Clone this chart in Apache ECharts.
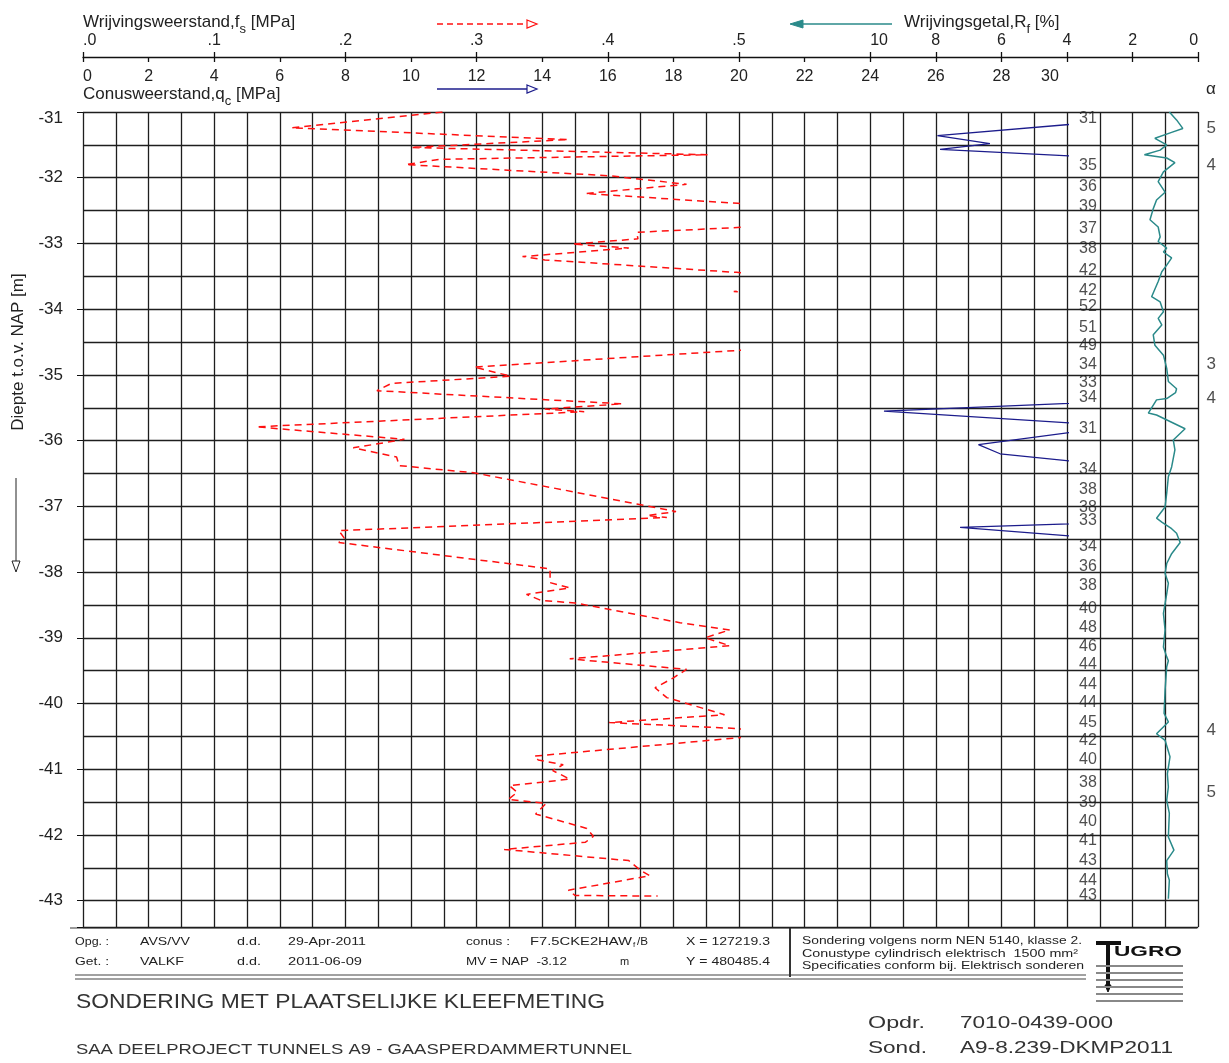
<!DOCTYPE html>
<html><head><meta charset="utf-8">
<script src="https://cdn.jsdelivr.net/npm/echarts@6/dist/echarts.min.js"></script>
<style>html,body{margin:0;padding:0;background:#fff}#c{width:1229px;height:1063px}</style>
</head><body><div id="c"></div>
<script>
// ---------------- DATA ----------------
// Friction resistance fs [MPa] versus depth [m NAP] (values above 0.5 run off the scale)
const fsDepth = [-31.00,-31.24,-31.42,-31.54,-31.65,-31.72,-31.80,-31.97,-32.10,-32.24,-32.39,-32.55,-32.70,-32.83,-32.93,-33.01,-33.07,-33.20,-33.25,-33.44,-33.55,-33.70,-33.73,-33.76,-34.00,-34.30,-34.55,-34.62,-34.88,-35.02,-35.13,-35.24,-35.44,-35.52,-35.56,-35.79,-35.98,-36.11,-36.25,-36.38,-36.49,-36.94,-37.08,-37.14,-37.17,-37.37,-37.48,-37.55,-37.95,-38.16,-38.24,-38.34,-38.43,-38.47,-38.77,-38.88,-39.00,-39.12,-39.32,-39.48,-39.61,-39.76,-39.91,-40.17,-40.29,-40.38,-40.45,-40.52,-40.80,-40.86,-40.93,-41.02,-41.15,-41.25,-41.35,-41.46,-41.52,-41.68,-41.90,-42.02,-42.11,-42.22,-42.39,-42.54,-42.62,-42.84,-42.92,-42.93];
const fsValue = [0.274,0.159,0.370,0.250,0.476,0.272,0.246,0.401,0.460,0.383,0.499,0.57,0.56,0.422,0.423,0.373,0.416,0.335,0.352,0.498,0.57,0.52,0.496,0.52,0.58,0.57,0.55,0.505,0.298,0.326,0.235,0.224,0.411,0.352,0.382,0.132,0.245,0.206,0.239,0.241,0.298,0.416,0.452,0.430,0.445,0.195,0.199,0.195,0.356,0.356,0.371,0.338,0.349,0.375,0.455,0.493,0.474,0.493,0.371,0.460,0.450,0.436,0.445,0.489,0.401,0.498,0.53,0.500,0.344,0.347,0.366,0.358,0.371,0.325,0.331,0.324,0.353,0.345,0.384,0.389,0.383,0.321,0.416,0.425,0.432,0.370,0.375,0.438];

// Cone resistance qc [MPa]: readings inside the 0-30 scale
const qcDipDepth = [-31.18,-31.36,-31.48,-31.57,-31.67,-35.55,-35.73,-35.87,-36.06,-36.20,-36.31,-37.32,-37.45];
const qcDipValue = [30.3,26.05,27.65,26.13,30.1,24.42,30.1,30.2,27.3,27.96,30.1,26.74,30.1];
// Cone resistance qc [MPa] above 30 (printed as numbers)
const qcOverDepth = [-31.10,-31.81,-32.14,-32.44,-32.77,-33.08,-33.41,-33.71,-33.96,-34.28,-34.56,-34.84,-35.11,-35.35,-35.81,-36.44,-36.74,-37.02,-37.22,-37.61,-37.91,-38.20,-38.55,-38.85,-39.14,-39.40,-39.71,-39.99,-40.29,-40.56,-40.85,-41.21,-41.51,-41.80,-42.08,-42.39,-42.69,-42.92];
const qcOverValue = [31,35,36,39,37,38,42,42,52,51,49,34,33,34,31,34,38,38,33,34,36,38,40,48,46,44,44,44,45,42,40,38,39,40,41,43,44,43];

// Friction ratio Rf [%]
const rfDepth = [-31.00,-31.12,-31.25,-31.31,-31.40,-31.50,-31.58,-31.65,-31.70,-31.77,-31.91,-32.06,-32.22,-32.34,-32.47,-32.64,-32.75,-32.90,-32.97,-33.07,-33.13,-33.22,-33.33,-33.43,-33.58,-33.81,-33.89,-34.04,-34.14,-34.24,-34.39,-34.55,-34.70,-34.90,-35.10,-35.21,-35.27,-35.36,-35.38,-35.58,-35.61,-35.82,-35.99,-36.14,-36.40,-36.55,-36.80,-37.01,-37.18,-37.24,-37.34,-37.41,-37.55,-37.72,-37.87,-38.02,-38.17,-38.33,-38.48,-38.63,-38.88,-39.14,-39.29,-39.35,-39.44,-39.80,-40.15,-40.28,-40.46,-40.56,-40.81,-41.07,-41.27,-41.47,-41.67,-42.03,-42.23,-42.39,-42.59,-42.69,-42.97];
const rfValue = [0.88,0.66,0.47,0.81,1.32,0.96,1.16,1.64,0.96,0.71,1.06,1.22,1.01,1.27,1.37,1.47,1.22,1.16,1.22,0.96,1.06,0.81,0.96,1.11,1.22,1.42,1.16,1.06,1.22,1.11,1.37,1.32,1.06,0.96,0.91,0.66,0.69,0.96,1.27,1.52,1.27,0.40,0.76,0.71,0.81,0.91,0.96,1.01,1.27,1.11,0.81,0.66,0.55,0.81,0.96,1.01,0.91,0.96,1.01,1.06,1.01,1.06,0.96,0.91,0.96,1.01,1.04,0.91,1.27,1.01,0.86,0.94,0.91,0.96,0.88,0.91,0.74,0.96,0.94,0.88,0.91];

// alpha values (right margin)
const alphaDepth = [-31.25,-31.81,-34.84,-35.36,-40.41,-41.35];
const alphaValue = [5,4,3,4,4,5];

// axis ranges
const depthTop = 31, depthBottom = 43.4;        // metres below NAP (shown negative)
const qcScaleMax = 30, fsScaleMax = 0.5, rfScaleMax = 10, panelMax = 34;

// ---------------- LAYOUT ----------------
const FONT = '"Liberation Sans", Arial, sans-serif';
const L = 83, T = 112, U = 32.8, H = 815;
const qcLabelX = 30.64, alphaX = 34.4;

const mctx = document.createElement('canvas').getContext('2d');
function tw(s, size, weight) { mctx.font = (weight || 'normal') + ' ' + size + 'px ' + FONT; return mctx.measureText(s).width; }
function txt(x, y, s, size, o) {
  o = o || {};
  return { type: 'text', x: x, y: y, silent: true, scaleX: o.scaleX || 1, scaleY: o.scaleY || 1, rotation: o.rotation || 0,
    style: { text: s, fontSize: size, fontFamily: FONT, fontWeight: o.weight || 'normal', fill: o.fill || '#222',
      align: o.align || 'left', verticalAlign: o.va || 'middle' } };
}
function fit(x, y, s, size, width, o) {
  o = o || {};
  o.scaleX = width / tw(s, size, o.weight);
  return txt(x, y, s, size, o);
}
function line(x1, y1, x2, y2, color, w, dash) {
  return { type: 'line', silent: true, shape: { x1, y1, x2, y2 }, style: { stroke: color, lineWidth: w || 1, lineDash: dash || null } };
}
function poly(pts, fill, stroke, w) {
  return { type: 'polygon', silent: true, shape: { points: pts }, style: { fill: fill, stroke: stroke, lineWidth: w || 1 } };
}
function subTitle(x, y, a, s, b, size) {
  const w1 = tw(a, size), w2 = tw(s, size - 4);
  return [txt(x, y, a, size), txt(x + w1, y + 7, s, size - 4), txt(x + w1 + w2, y, b, size)];
}

// ---------------- SERIES DATA ----------------
const qcPts = qcOverDepth.map((d, i) => [d, qcOverValue[i]])
  .concat(qcDipDepth.map((d, i) => [d, qcDipValue[i]]))
  .sort((a, b) => b[0] - a[0]);

const hiddenY = (g) => ({ gridIndex: g, type: 'value', inverse: true, min: depthTop, max: depthBottom, show: false });
const isInt = v => Math.abs(v - Math.round(v)) < 1e-6;

const gridLine = { show: true, lineStyle: { color: '#1e1e1e', width: 1.3 } };

const option = {
  animation: false,
  backgroundColor: '#fff',
  grid: [
    { left: L, top: T, width: panelMax * U, height: H },
    { left: L, top: T, width: qcScaleMax / 30 * 20 * U, height: H },
    { left: L, top: T, width: qcScaleMax * U, height: H },
    { left: L + (panelMax - rfScaleMax) * U, top: T, width: rfScaleMax * U, height: H }
  ],
  xAxis: [
    { gridIndex: 0, type: 'value', min: 0, max: panelMax, interval: 1, position: 'bottom',
      axisLine: { show: false }, axisTick: { show: false }, axisLabel: { show: false }, splitLine: gridLine },
    { gridIndex: 0, type: 'value', min: 0, max: panelMax, interval: 2, position: 'top', offset: 55,
      axisLine: { show: true, onZero: false, lineStyle: { color: '#111', width: 1.3 } },
      axisTick: { show: true, inside: true, length: 5, lineStyle: { color: '#111', width: 1.3 } },
      axisLabel: { show: true, inside: true, margin: 12, fontSize: 16, color: '#222', fontFamily: FONT, alignMinLabel: 'left',
        formatter: v => v === qcScaleMax ? '{s|' + v + '}' : (v < qcScaleMax ? String(v) : ''),
        rich: { s: { fontSize: 16, fontFamily: FONT, color: '#222', padding: [0, 34, 0, 0] } } },
      splitLine: { show: false } },
    { gridIndex: 1, type: 'value', min: 0, max: fsScaleMax, interval: 0.1, position: 'top', offset: 55,
      axisLine: { show: false }, axisTick: { show: true, inside: false, length: 5, lineStyle: { color: '#111', width: 1.3 } },
      axisLabel: { show: true, margin: 8, fontSize: 16, color: '#222', fontFamily: FONT, alignMinLabel: 'left',
        formatter: v => '.' + Math.round(v * 10) }, splitLine: { show: false } },
    { gridIndex: 2, type: 'value', min: 0, max: qcScaleMax, show: false },
    { gridIndex: 3, type: 'value', min: 0, max: rfScaleMax, interval: 2, inverse: true, position: 'top', offset: 55,
      axisLine: { show: false }, axisTick: { show: true, inside: false, length: 5, lineStyle: { color: '#111', width: 1.3 } },
      axisLabel: { show: true, margin: 8, fontSize: 16, color: '#222', fontFamily: FONT, alignMinLabel: 'right', alignMaxLabel: 'left' },
      splitLine: { show: false } }
  ],
  yAxis: [
    { gridIndex: 0, type: 'value', inverse: true, min: depthTop, max: depthBottom, interval: 0.5,
      axisLine: { show: false }, axisTick: { show: false }, axisLabel: { show: false }, splitLine: gridLine },
    { gridIndex: 0, type: 'value', inverse: true, min: depthTop, max: depthBottom, interval: 1, position: 'left',
      axisLine: { show: false }, axisTick: { show: true, length: 6, lineStyle: { color: '#111' } },
      axisLabel: { show: true, margin: 20, fontSize: 17, color: '#222', fontFamily: FONT,
        formatter: v => !isInt(v) ? '' : (Math.round(v) === depthTop ? '{t|' + (-depthTop) + '}' : String(-Math.round(v))),
        rich: { t: { fontSize: 17, fontFamily: FONT, color: '#222', padding: [12, 0, 0, 0] } } },
      splitLine: { show: false } },
    hiddenY(1), hiddenY(2), hiddenY(3)
  ],
  series: [
    { name: 'fs', type: 'line', xAxisIndex: 2, yAxisIndex: 2, clip: true, symbol: 'none', z: 4,
      data: fsDepth.map((d, i) => [fsValue[i], -d]),
      lineStyle: { color: '#ff1010', width: 1.5, type: [7, 5] } },
    { name: 'qc', type: 'line', xAxisIndex: 3, yAxisIndex: 3, clip: true, symbol: 'none', z: 4,
      data: qcPts.map(p => [p[1], -p[0]]),
      lineStyle: { color: '#1c1c8c', width: 1.3 } },
    { name: 'Rf', type: 'line', xAxisIndex: 4, yAxisIndex: 4, clip: true, symbol: 'none', z: 4,
      data: rfDepth.map((d, i) => [rfValue[i], -d]),
      lineStyle: { color: '#2a8a8a', width: 1.5 } },
    { name: 'qcText', type: 'scatter', xAxisIndex: 0, yAxisIndex: 0, clip: false, silent: true, symbolSize: 1, z: 6,
      itemStyle: { color: 'rgba(0,0,0,0)' },
      data: qcOverDepth.map((d, i) => [qcLabelX, -d, qcOverValue[i]]),
      label: { show: true, position: 'inside', formatter: p => String(p.value[2]), fontSize: 16, color: '#222', fontFamily: FONT } },
    { name: 'alpha', type: 'scatter', xAxisIndex: 0, yAxisIndex: 0, clip: false, silent: true, symbolSize: 1, z: 6,
      itemStyle: { color: 'rgba(0,0,0,0)' },
      data: alphaDepth.map((d, i) => [alphaX, -d, alphaValue[i]]),
      label: { show: true, position: 'inside', formatter: p => String(p.value[2]), fontSize: 17, color: '#222', fontFamily: FONT } }
  ],
  graphic: [].concat(
    subTitle(83, 22, 'Wrijvingsweerstand,f', 's', ' [MPa]', 17),
    subTitle(904, 22, 'Wrijvingsgetal,R', 'f', ' [%]', 17),
    subTitle(83, 94, 'Conusweerstand,q', 'c', ' [MPa]', 17),
    [
      // legend arrows
      line(437, 24, 528, 24, '#ff1010', 1.3, [6, 4]),
      poly([[527, 20], [537, 24], [527, 28]], '#fff', '#ff1010', 1.2),
      line(437, 89, 528, 89, '#1c1c8c', 1.3),
      poly([[527, 85], [537, 89], [527, 93]], '#fff', '#1c1c8c', 1.2),
      line(800, 24, 892, 24, '#2a8a8a', 1.5),
      poly([[790, 24], [803, 20], [803, 28]], '#2a8a8a', '#2a8a8a', 1),
      txt(1211, 89, 'α', 17, { align: 'center' }),
      // depth axis title & arrow
      txt(18, 352, 'Diepte t.o.v. NAP [m]', 17, { align: 'center', rotation: Math.PI / 2 }),
      line(16, 478, 16, 570, '#222', 1),
      poly([[12, 561], [20, 561], [16, 572]], '#fff', '#222', 1),
      // info box frame
      line(70, 928, 1197, 928, '#9a9a9a', 2),
      line(75, 975, 1086, 975, '#444', 1.2),
      line(75, 979, 1086, 979, '#444', 1.2),
      line(790, 928, 790, 977, '#333', 2),
      fit(75, 942, 'Opg. :', 11, 34), fit(140, 942, 'AVS/VV', 11, 50), fit(237, 942, 'd.d.', 11, 24), fit(288, 942, '29-Apr-2011', 11, 78),
      fit(466, 942, 'conus :', 11, 44), fit(530, 942, 'F7.5CKE2HAW', 11, 102), txt(633, 945, 'f', 8), fit(637, 942, '/B', 11, 11),
      fit(686, 942, 'X = 127219.3', 11, 84),
      fit(75, 962, 'Get. :', 11, 34), fit(140, 962, 'VALKF', 11, 44), fit(237, 962, 'd.d.', 11, 24), fit(288, 962, '2011-06-09', 11, 74),
      fit(466, 962, 'MV = NAP  -3.12', 11, 101), txt(620, 962, 'm', 11), fit(686, 962, 'Y = 480485.4', 11, 84),
      fit(802, 941, 'Sondering volgens norm NEN 5140, klasse 2.', 11.5, 280),
      fit(802, 954, 'Conustype cylindrisch elektrisch  1500 mm²', 11.5, 276),
      fit(802, 966, 'Specificaties conform bij. Elektrisch sonderen', 11.5, 282),
      // logo
      line(1096, 943, 1121, 943, '#111', 4),
      line(1108, 943, 1108, 985, '#111', 4),
      poly([[1105, 985], [1111, 985], [1108, 992]], '#111', '#111', 1),
      fit(1114, 952, 'UGRO', 14, 68, { weight: 'bold', fill: '#111' }),
      line(1096, 966, 1183, 966, '#888', 2), line(1096, 973, 1183, 973, '#888', 2), line(1096, 980, 1183, 980, '#888', 2),
      line(1096, 987, 1183, 987, '#888', 2), line(1096, 994, 1183, 994, '#888', 2), line(1096, 1001, 1183, 1001, '#888', 2),
      // titles
      fit(76, 1002, 'SONDERING MET PLAATSELIJKE KLEEFMETING', 21, 529, { fill: '#333' }),
      fit(76, 1050, 'SAA DEELPROJECT TUNNELS A9 - GAASPERDAMMERTUNNEL', 15.5, 556, { fill: '#333' }),
      fit(868, 1023, 'Opdr.', 16.5, 57, { fill: '#333' }), fit(960, 1023, '7010-0439-000', 16.5, 153, { fill: '#333' }),
      fit(868, 1048, 'Sond.', 16.5, 59, { fill: '#333' }), fit(960, 1048, 'A9-8.239-DKMP2011', 16.5, 213, { fill: '#333' })
    ]
  )
};

const chart = echarts.init(document.getElementById('c'), null, { renderer: 'canvas' });
chart.setOption(option);
</script>
</body></html>
